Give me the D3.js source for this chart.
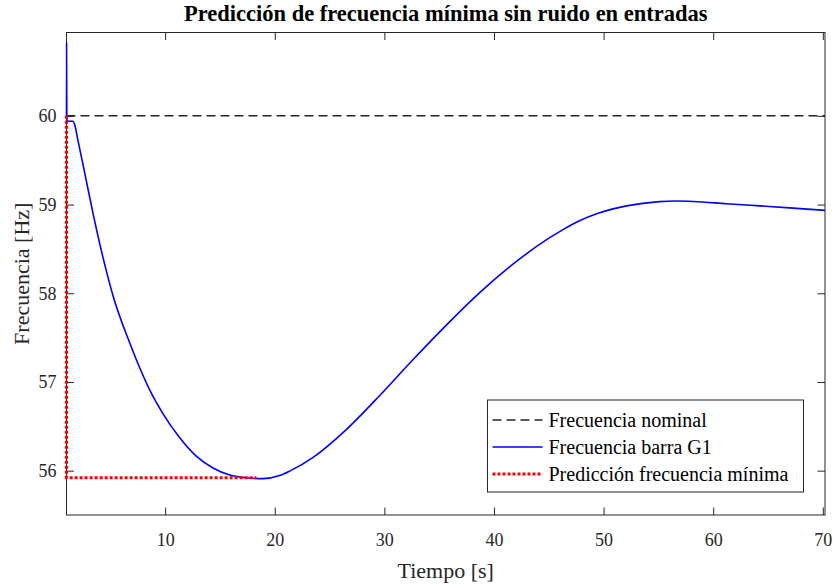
<!DOCTYPE html>
<html>
<head>
<meta charset="utf-8">
<script src="https://cdn.jsdelivr.net/npm/d3@7"></script>
<style>
  body { margin: 0; background: #fff; }
  text { font-family: "Liberation Serif", "Times New Roman", serif; }
</style>
</head>
<body>
<svg id="chart" width="835" height="588"></svg>
<script>
//Time axis values of the simulated frequency (s)
const time = [1.0, 1.005, 1.03, 1.15, 1.6, 1.75, 2.05, 2.51, 2.97, 3.42, 4.03, 4.64, 5.25,
  6.77, 7.68, 8.59, 9.81, 11.33, 12.86, 14.37, 15.89, 17.4, 18.93, 20.45, 21.36,
  23.5, 26.5, 29.6, 32.6, 35.7, 38.7, 41.7, 44.8, 46.3, 47.8, 49.5, 52.1, 55.1,
  56.6, 58.2, 61.2, 64.3, 67.3, 70.2];
//Frequency of bus G1 (Hz)
const freq = [60.0, 60.82, 59.95, 59.94, 59.94, 59.90, 59.72, 59.45, 59.17, 58.90, 58.56, 58.25, 57.97,
  57.44, 57.16, 56.91, 56.64, 56.37, 56.16, 56.03, 55.95, 55.92, 55.91, 55.945, 55.995,
  56.15, 56.46, 56.85, 57.25, 57.647, 58.007, 58.325, 58.604, 58.718, 58.817, 58.902, 58.985, 59.033,
  59.04, 59.035, 59.01, 58.985, 58.96, 58.935];
//Nominal frequency
const nominal = 60;
//Predicted minimum frequency path
const predTime = [1.0, 1.0, 18.33];
const predFreq = [60.0, 55.92, 55.92];
//Ticks
const xTicks = [10, 20, 30, 40, 50, 60, 70];
const yTicks = [56, 57, 58, 59, 60];
const legendLabels = ["Frecuencia nominal", "Frecuencia barra G1", "Predicción frecuencia mínima"];

let svg = d3.select("#chart"),
    margin = {top: 32.5, left: 66.5, right: 10, bottom: 73},
    width = 835 - margin.left - margin.right,
    height = 588 - margin.top - margin.bottom;

let x = d3.scaleLinear().domain([1, 70.2]).range([0, width]),
    y = d3.scaleLinear().domain([55.5, 60.94]).range([height, 0]);

let axisColor = "#262626";
let serif = "'Liberation Serif', 'Times New Roman', serif";

let g = svg.append("g")
    .attr("transform", "translate(" + margin.left + "," + margin.top + ")");

//Axes (ticks pointing inwards, box on) - drawn first so the data lies on top
let tickLen = 7.5;
g.append("g")
    .attr("transform", "translate(0," + height + ")")
    .call(d3.axisBottom(x).tickValues(xTicks).tickSize(-tickLen).tickPadding(18).tickSizeOuter(0))
    .call(a => a.select(".domain").remove());
g.append("g")
    .call(d3.axisTop(x).tickValues(xTicks).tickSize(-tickLen).tickFormat("").tickSizeOuter(0))
    .call(a => a.select(".domain").remove());
g.append("g")
    .call(d3.axisLeft(y).tickValues(yTicks).tickSize(-tickLen).tickPadding(10).tickFormat(d3.format("d")).tickSizeOuter(0))
    .call(a => a.select(".domain").remove());
g.append("g")
    .attr("transform", "translate(" + width + ",0)")
    .call(d3.axisRight(y).tickValues(yTicks).tickSize(-tickLen).tickFormat("").tickSizeOuter(0))
    .call(a => a.select(".domain").remove());

g.selectAll(".tick line").attr("stroke", axisColor);
g.selectAll(".tick text")
    .attr("fill", axisColor)
    .style("font-family", serif)
    .style("font-size", "18px");

g.append("rect")
    .attr("width", width)
    .attr("height", height)
    .attr("fill", "none")
    .attr("stroke", axisColor)
    .attr("stroke-width", 1);

let line = d3.line().x(d => x(d[0])).y(d => y(d[1]));

//Nominal frequency line
g.append("path")
    .datum([[1, nominal], [70.2, nominal]])
    .attr("d", line)
    .attr("fill", "none")
    .attr("stroke", axisColor)
    .attr("stroke-width", 1.5)
    .attr("stroke-dasharray", "9,5");

//Frequency curve
g.append("path")
    .datum(time.map((t, i) => [t, freq[i]]))
    .attr("d", d3.line().x(d => x(d[0])).y(d => y(d[1])).curve(d3.curveMonotoneX))
    .attr("fill", "none")
    .attr("stroke", "#0000ff")
    .attr("stroke-width", 1.6);

//Prediction
g.append("path")
    .datum(predTime.map((t, i) => [t, predFreq[i]]))
    .attr("d", line)
    .attr("fill", "none")
    .attr("stroke", "#ff0000")
    .attr("stroke-width", 3.2)
    .attr("stroke-dasharray", "3,2");

//Titles
svg.append("text")
    .attr("x", margin.left + width / 2)
    .attr("y", 21)
    .attr("text-anchor", "middle")
    .style("font-size", "22.5px")
    .style("font-weight", "bold")
    .attr("fill", "#000")
    .text("Predicción de frecuencia mínima sin ruido en entradas");

svg.append("text")
    .attr("x", margin.left + width / 2)
    .attr("y", 578)
    .attr("text-anchor", "middle")
    .style("font-size", "22px")
    .attr("fill", axisColor)
    .text("Tiempo [s]");

svg.append("text")
    .attr("transform", "translate(29," + (margin.top + height / 2) + ") rotate(-90)")
    .attr("text-anchor", "middle")
    .style("font-size", "22px")
    .attr("fill", axisColor)
    .text("Frecuencia [Hz]");

//Legend
let legend = svg.append("g").attr("transform", "translate(487.5,400)");
legend.append("rect")
    .attr("width", 316)
    .attr("height", 92)
    .attr("fill", "#fff")
    .attr("stroke", axisColor)
    .attr("stroke-width", 1);
let styles = [
  {stroke: axisColor, width: 1.5, dash: "9,5"},
  {stroke: "#0000ff", width: 1.6, dash: null},
  {stroke: "#ff0000", width: 3, dash: "3,2"}
];
legendLabels.forEach(function(label, i){
  let yy = 20 + i * 27;
  legend.append("line")
      .attr("x1", 5).attr("x2", 55)
      .attr("y1", yy).attr("y2", yy)
      .attr("stroke", styles[i].stroke)
      .attr("stroke-width", styles[i].width)
      .attr("stroke-dasharray", styles[i].dash);
  legend.append("text")
      .attr("x", 61)
      .attr("y", yy)
      .attr("dy", "0.35em")
      .style("font-size", "20px")
      .attr("fill", "#000")
      .text(label);
});
</script>
</body>
</html>
